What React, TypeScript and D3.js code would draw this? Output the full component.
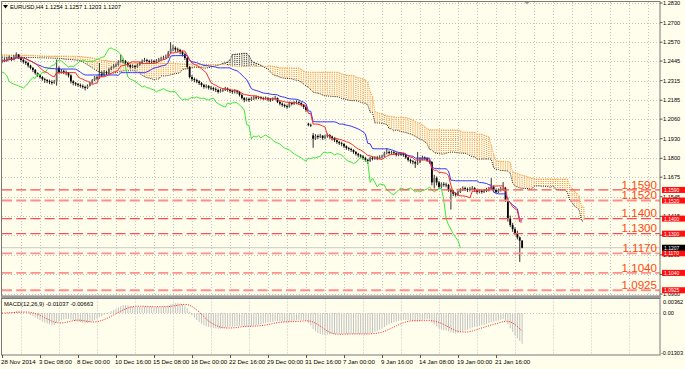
import React, { useEffect, useRef } from 'react';
import * as d3 from 'd3';

const width = 685;
const height = 369;
const BG = '#fffdeb';
const FONT = "'Liberation Sans', Arial, sans-serif";

// EURUSD H4 bars, left to right (open = previous close unless a gap)
const closes = [
  1.2448, 1.2452, 1.2461, 1.2468, 1.2455, 1.2474, 1.2488, 1.2470, 1.2452, 1.2440,
  1.2432, 1.2415, 1.2400, 1.2386, 1.2365, 1.2352, 1.2339, 1.2325, 1.2319, 1.2312,
  1.2306, 1.2300, 1.2308, 1.2400, 1.2372, 1.2378, 1.2372, 1.2365, 1.2350, 1.2310,
  1.2299, 1.2292, 1.2286, 1.2280, 1.2273, 1.2266, 1.2280, 1.2299, 1.2319, 1.2336,
  1.2330, 1.2360, 1.2350, 1.2372, 1.2365, 1.2390, 1.2400, 1.2415, 1.2419, 1.2440,
  1.2452, 1.2445, 1.2432, 1.2418, 1.2406, 1.2412, 1.2406, 1.2420, 1.2432, 1.2445,
  1.2452, 1.2446, 1.2439, 1.2444, 1.2439, 1.2448, 1.2456, 1.2462, 1.2470, 1.2472,
  1.2500, 1.2528, 1.2532, 1.2522, 1.2518, 1.2505, 1.2490, 1.2465, 1.2406, 1.2339,
  1.2325, 1.2319, 1.2310, 1.2299, 1.2286, 1.2273, 1.2280, 1.2268, 1.2266, 1.2258,
  1.2253, 1.2240, 1.2250, 1.2253, 1.2262, 1.2253, 1.2246, 1.2240, 1.2244, 1.2240,
  1.2220, 1.2200, 1.2187, 1.2194, 1.2187, 1.2196, 1.2204, 1.2200, 1.2206, 1.2200,
  1.2196, 1.2200, 1.2190, 1.2187, 1.2194, 1.2200, 1.2174, 1.2162, 1.2154, 1.2146,
  1.2140, 1.2167, 1.2160, 1.2167, 1.2172, 1.2167, 1.2154, 1.2140, 1.2120, 1.2022,
  1.2018, 1.1930, 1.1948, 1.1941, 1.1950, 1.1935, 1.1946, 1.1955, 1.1944, 1.1935,
  1.1920, 1.1908, 1.1900, 1.1895, 1.1880, 1.1868, 1.1862, 1.1855, 1.1842, 1.1830,
  1.1820, 1.1812, 1.1802, 1.1790, 1.1782, 1.1802, 1.1798, 1.1804, 1.1802, 1.1809,
  1.1812, 1.1835, 1.1842, 1.1835, 1.1840, 1.1835, 1.1822, 1.1830, 1.1828, 1.1822,
  1.1806, 1.1789, 1.1780, 1.1775, 1.1765, 1.1772, 1.1790, 1.1805, 1.1800, 1.1785,
  1.1775, 1.1640, 1.1669, 1.1640, 1.1610, 1.1630, 1.1626, 1.1623, 1.1590, 1.1580,
  1.1565, 1.1558, 1.1577, 1.1590, 1.1603, 1.1596, 1.1590, 1.1598, 1.1603, 1.1590,
  1.1577, 1.1584, 1.1577, 1.1586, 1.1590, 1.1596, 1.1610, 1.1590, 1.1577, 1.1590,
  1.1598, 1.1600, 1.1523, 1.1400, 1.1358, 1.1330, 1.1300, 1.1275, 1.1254, 1.1207,
];
const highs = [
  1.2462, 1.2466, 1.2470, 1.2480, 1.2472, 1.2484, 1.2502, 1.2492, 1.2474, 1.2458,
  1.2448, 1.2440, 1.2420, 1.2405, 1.2392, 1.2370, 1.2358, 1.2346, 1.2334, 1.2326,
  1.2322, 1.2318, 1.2320, 1.2455, 1.2410, 1.2392, 1.2388, 1.2382, 1.2372, 1.2356,
  1.2318, 1.2306, 1.2300, 1.2296, 1.2290, 1.2282, 1.2290, 1.2308, 1.2326, 1.2345,
  1.2348, 1.2432, 1.2378, 1.2384, 1.2380, 1.2398, 1.2410, 1.2424, 1.2430, 1.2450,
  1.2486, 1.2462, 1.2452, 1.2440, 1.2424, 1.2422, 1.2420, 1.2428, 1.2440, 1.2456,
  1.2466, 1.2460, 1.2454, 1.2456, 1.2452, 1.2458, 1.2466, 1.2474, 1.2480, 1.2488,
  1.2512, 1.2570, 1.2552, 1.2542, 1.2534, 1.2526, 1.2514, 1.2500, 1.2472, 1.2412,
  1.2352, 1.2336, 1.2328, 1.2318, 1.2306, 1.2294, 1.2290, 1.2286, 1.2280, 1.2274,
  1.2270, 1.2262, 1.2262, 1.2266, 1.2274, 1.2270, 1.2262, 1.2256, 1.2258, 1.2254,
  1.2246, 1.2228, 1.2206, 1.2204, 1.2202, 1.2208, 1.2214, 1.2216, 1.2214, 1.2212,
  1.2208, 1.2210, 1.2206, 1.2200, 1.2204, 1.2214, 1.2204, 1.2180, 1.2170, 1.2162,
  1.2156, 1.2176, 1.2174, 1.2178, 1.2184, 1.2182, 1.2172, 1.2160, 1.2146, 1.2036,
  1.2030, 1.1968, 1.1960, 1.1958, 1.1962, 1.1954, 1.1956, 1.1964, 1.1960, 1.1950,
  1.1940, 1.1926, 1.1916, 1.1910, 1.1900, 1.1886, 1.1876, 1.1870, 1.1860, 1.1848,
  1.1836, 1.1828, 1.1820, 1.1810, 1.1796, 1.1810, 1.1812, 1.1814, 1.1816, 1.1820,
  1.1824, 1.1844, 1.1866, 1.1852, 1.1850, 1.1848, 1.1840, 1.1838, 1.1840, 1.1836,
  1.1828, 1.1810, 1.1796, 1.1790, 1.1782, 1.1842, 1.1806, 1.1818, 1.1812, 1.1806,
  1.1790, 1.1782, 1.1690, 1.1680, 1.1650, 1.1640, 1.1642, 1.1638, 1.1630, 1.1600,
  1.1590, 1.1574, 1.1586, 1.1602, 1.1614, 1.1612, 1.1606, 1.1610, 1.1616, 1.1610,
  1.1596, 1.1594, 1.1592, 1.1596, 1.1604, 1.1610, 1.1668, 1.1620, 1.1598, 1.1600,
  1.1610, 1.1643, 1.1610, 1.1540, 1.1420, 1.1372, 1.1342, 1.1320, 1.1282, 1.1257,
];
const lows = [
  1.2430, 1.2438, 1.2440, 1.2450, 1.2446, 1.2450, 1.2466, 1.2458, 1.2440, 1.2428,
  1.2420, 1.2402, 1.2390, 1.2372, 1.2355, 1.2340, 1.2328, 1.2315, 1.2300, 1.2298,
  1.2292, 1.2288, 1.2294, 1.2282, 1.2360, 1.2362, 1.2358, 1.2350, 1.2336, 1.2296,
  1.2284, 1.2280, 1.2274, 1.2268, 1.2262, 1.2250, 1.2260, 1.2276, 1.2294, 1.2312,
  1.2318, 1.2326, 1.2338, 1.2344, 1.2352, 1.2360, 1.2384, 1.2396, 1.2404, 1.2414,
  1.2436, 1.2430, 1.2420, 1.2406, 1.2394, 1.2398, 1.2392, 1.2400, 1.2414, 1.2426,
  1.2438, 1.2434, 1.2428, 1.2430, 1.2428, 1.2432, 1.2440, 1.2448, 1.2454, 1.2460,
  1.2466, 1.2496, 1.2510, 1.2506, 1.2502, 1.2490, 1.2476, 1.2452, 1.2396, 1.2330,
  1.2312, 1.2304, 1.2298, 1.2286, 1.2274, 1.2262, 1.2264, 1.2256, 1.2252, 1.2246,
  1.2240, 1.2230, 1.2236, 1.2240, 1.2246, 1.2242, 1.2234, 1.2228, 1.2230, 1.2226,
  1.2210, 1.2190, 1.2172, 1.2178, 1.2174, 1.2180, 1.2186, 1.2190, 1.2192, 1.2190,
  1.2186, 1.2188, 1.2178, 1.2174, 1.2180, 1.2188, 1.2166, 1.2150, 1.2142, 1.2136,
  1.2128, 1.2136, 1.2150, 1.2154, 1.2158, 1.2156, 1.2144, 1.2128, 1.2108, 1.2012,
  1.2008, 1.1870, 1.1922, 1.1928, 1.1934, 1.1922, 1.1926, 1.1936, 1.1930, 1.1922,
  1.1908, 1.1896, 1.1888, 1.1880, 1.1868, 1.1856, 1.1850, 1.1842, 1.1830, 1.1818,
  1.1806, 1.1800, 1.1790, 1.1778, 1.1762, 1.1776, 1.1786, 1.1790, 1.1788, 1.1794,
  1.1798, 1.1806, 1.1826, 1.1824, 1.1826, 1.1822, 1.1812, 1.1814, 1.1816, 1.1810,
  1.1796, 1.1778, 1.1766, 1.1760, 1.1736, 1.1756, 1.1768, 1.1786, 1.1788, 1.1776,
  1.1764, 1.1620, 1.1600, 1.1620, 1.1595, 1.1600, 1.1612, 1.1608, 1.1578, 1.1460,
  1.1550, 1.1546, 1.1550, 1.1570, 1.1584, 1.1584, 1.1576, 1.1580, 1.1588, 1.1578,
  1.1564, 1.1568, 1.1566, 1.1570, 1.1576, 1.1580, 1.1590, 1.1576, 1.1566, 1.1570,
  1.1580, 1.1584, 1.1510, 1.1380, 1.1344, 1.1312, 1.1290, 1.1262, 1.1113, 1.1203,
];
const firstOpen = 1.2440;
const gapOpens: { [bar: number]: number } = { 129: 1.2030, 131: 1.1952 };

// cloud spans at the left edge, which depend on bars before the visible window
const kumoEarlyA = [
  1.2471, 1.2471, 1.2470, 1.2470, 1.2470, 1.2470, 1.2470, 1.2470, 1.2469, 1.2469,
  1.2469, 1.2469, 1.2468, 1.2468, 1.2468, 1.2467, 1.2467, 1.2466, 1.2466, 1.2465,
  1.2465, 1.2465, 1.2464, 1.2464, 1.2463, 1.2462, 1.2458, 1.2456, 1.2455, 1.2455,
  1.2454, 1.2452, 1.2450, 1.2446, 1.2440, 1.2430, 1.2420, 1.2410, 1.2400, 1.2390,
  1.2380, 1.2372, 1.2366, 1.2362, 1.2360, 1.2360, 1.2362, 1.2365, 1.2368, 1.2372,
  1.2376,
];
const kumoEarlyB = [
  1.2486, 1.2486, 1.2486, 1.2485, 1.2485, 1.2485, 1.2485, 1.2485, 1.2484, 1.2484,
  1.2484, 1.2484, 1.2483, 1.2483, 1.2482, 1.2482, 1.2480, 1.2479, 1.2479, 1.2478,
  1.2478, 1.2478, 1.2478, 1.2478, 1.2478, 1.2478, 1.2478, 1.2478, 1.2477, 1.2477,
  1.2477, 1.2476, 1.2476, 1.2475, 1.2474, 1.2472, 1.2470, 1.2468, 1.2466, 1.2462,
  1.2458, 1.2455, 1.2452, 1.2450, 1.2448, 1.2446, 1.2444, 1.2442, 1.2440, 1.2438,
  1.2436, 1.2435, 1.2434, 1.2433, 1.2432, 1.2431, 1.2430, 1.2430, 1.2430, 1.2430,
  1.2430, 1.2430, 1.2430, 1.2430, 1.2430, 1.2430, 1.2430, 1.2430, 1.2430, 1.2430,
  1.2430, 1.2430, 1.2430, 1.2429, 1.2428, 1.2427, 1.2426, 1.2425, 1.2425, 1.2424,
  1.2424, 1.2424, 1.2424, 1.2424, 1.2424, 1.2424, 1.2424, 1.2423, 1.2423, 1.2423,
  1.2422, 1.2422, 1.2422, 1.2421, 1.2420, 1.2418, 1.2415,
];

const priceTicks = [1.2830, 1.2700, 1.2570, 1.2445, 1.2315, 1.2185, 1.2060, 1.1930,
  1.1800, 1.1675, 1.1545, 1.1415, 1.1290, 1.1160, 1.1030, 1.0900];
const levels = [1.1590, 1.1520, 1.1400, 1.1300, 1.1170, 1.1040, 1.0925];
const bidPrice = 1.1207;
const timeLabels = ['28 Nov 2014', '3 Dec 08:00', '8 Dec 00:00', '10 Dec 16:00', '15 Dec 08:00',
  '18 Dec 00:00', '22 Dec 16:00', '29 Dec 00:00', '31 Dec 16:00', '7 Jan 00:00', '9 Jan 16:00',
  '14 Jan 08:00', '19 Jan 00:00', '21 Jan 16:00'];
const macdTicks = [0.00362, 0, -0.01303];
const macdTickLabels = ['0.00362', '0.00', '-0.01303'];
const header = 'EURUSD,H4  1.1254 1.1257 1.1203 1.1207';
const macdTitle = 'MACD(12,26,9) -0.01037 -0.00663';

const LEFT = 2;
const RIGHT = 660;
const MAIN_BOTTOM = 296;
const MACD_TOP = 298.5;
const MACD_BOTTOM = 355;
const heavyLevels = [1.1520, 1.1170, 1.1040, 1.0925];

const drawChart = (host: any) => {
  const svg = host.append('svg')
    .attr('width', width).attr('height', height)
    .style('display', 'block').style('background', BG)
    .attr('font-family', FONT);

  const n = closes.length;
  const opens = closes.map((c, i) => gapOpens[i] ?? (i === 0 ? firstOpen : closes[i - 1]));
  const midRange = (i: number, len: number) => {
    const s = Math.max(0, i - len + 1);
    return ((d3.max(highs.slice(s, i + 1)) as number) + (d3.min(lows.slice(s, i + 1)) as number)) / 2;
  };
  const tenkan = closes.map((_, i) => midRange(i, 9));
  const kijun = closes.map((_, i) => midRange(i, 26));
  const spanA = d3.range(n + 26).map(j => j < kumoEarlyA.length ? kumoEarlyA[j] : (tenkan[j - 26] + kijun[j - 26]) / 2);
  const spanB = d3.range(n + 26).map(j => j < kumoEarlyB.length ? kumoEarlyB[j] : midRange(j - 26, 52));
  const chikou = closes.slice(26);

  const ema = (p: number) => {
    const k = 2 / (p + 1);
    let e = closes[0];
    return closes.map(c => (e = e + k * (c - e)));
  };
  const e12 = ema(12), e26 = ema(26);
  const macd = closes.map((_, i) => e12[i] - e26[i]);
  const signal = macd.map((_, i) => d3.mean(macd.slice(Math.max(0, i - 8), i + 1)) as number);

  const x = d3.scaleLinear().domain([0, 8]).range([LEFT, LEFT + 19]);
  const y = d3.scaleLinear().domain([1.0900, 1.2830]).range([294, 3]);
  const ym = d3.scaleLinear().domain([-0.01303, 0.00362]).range([353, 302]).clamp(true);

  const defs = svg.append('defs');
  defs.append('clipPath').attr('id', 'mainClip').append('rect')
    .attr('x', LEFT).attr('y', 2).attr('width', RIGHT - LEFT).attr('height', MAIN_BOTTOM - 2);
  defs.append('clipPath').attr('id', 'macdClip').append('rect')
    .attr('x', LEFT).attr('y', MACD_TOP).attr('width', RIGHT - LEFT).attr('height', MACD_BOTTOM - MACD_TOP);

  // grid
  const grid = svg.append('g').attr('stroke', '#c4c4c4').attr('stroke-width', 1).attr('stroke-dasharray', '1,2');
  d3.range(8, 280, 8).filter(i => x(i) < RIGHT).forEach(i => {
    grid.append('line').attr('x1', Math.round(x(i)) + 0.5).attr('x2', Math.round(x(i)) + 0.5)
      .attr('y1', 2).attr('y2', MAIN_BOTTOM);
  });
  d3.range(8, 280, 16).filter(i => x(i) < RIGHT).forEach(i => {
    grid.append('line').attr('x1', Math.round(x(i)) + 0.5).attr('x2', Math.round(x(i)) + 0.5)
      .attr('y1', MACD_TOP).attr('y2', MACD_BOTTOM);
  });
  priceTicks.forEach(t => {
    grid.append('line').attr('x1', LEFT).attr('x2', RIGHT)
      .attr('y1', Math.round(y(t)) + 0.5).attr('y2', Math.round(y(t)) + 0.5);
  });
  grid.append('line').attr('x1', LEFT).attr('x2', RIGHT)
    .attr('y1', Math.round(ym(0)) + 0.5).attr('y2', Math.round(ym(0)) + 0.5);

  const main = svg.append('g').attr('clip-path', 'url(#mainClip)');

  // bid line
  main.append('line').attr('x1', LEFT).attr('x2', RIGHT)
    .attr('y1', y(bidPrice)).attr('y2', y(bidPrice)).attr('stroke', '#c8c8c8').attr('stroke-width', 1);

  // kumo hatch
  const kumo = main.append('g').attr('stroke-width', 1.15).attr('stroke-dasharray', '1,1');
  spanA.forEach((a, j) => {
    const b = spanB[j];
    kumo.append('line').attr('x1', x(j)).attr('x2', x(j))
      .attr('y1', y(Math.max(a, b))).attr('y2', y(Math.min(a, b)))
      .attr('stroke', b >= a ? '#f39a3c' : '#2a2a2a');
  });
  const idxLine = d3.line<number>().x((_, i) => x(i)).y(d => y(d));
  main.append('path').attr('d', idxLine(spanA)).attr('fill', 'none')
    .attr('stroke', '#222').attr('stroke-width', 1).attr('stroke-dasharray', '1,1.2');
  main.append('path').attr('d', idxLine(spanB)).attr('fill', 'none')
    .attr('stroke', '#f59a3c').attr('stroke-width', 1).attr('stroke-dasharray', '1,1.2');

  // candles
  const candles = main.append('g');
  closes.forEach((c, i) => {
    const o = opens[i];
    const h = Math.max(highs[i], o, c), l = Math.min(lows[i], o, c);
    candles.append('line').attr('x1', x(i)).attr('x2', x(i)).attr('y1', y(h)).attr('y2', y(l))
      .attr('stroke', '#1a1a1a').attr('stroke-width', 0.9);
    const top = y(Math.max(o, c)), bot = y(Math.min(o, c));
    candles.append('rect').attr('x', x(i) - 0.9).attr('width', 1.8)
      .attr('y', top).attr('height', Math.max(0.8, bot - top))
      .attr('fill', c >= o ? '#6a6a6a' : '#000');
  });

  // ichimoku lines
  main.append('path').attr('d', idxLine(chikou)).attr('fill', 'none')
    .attr('stroke', '#3be83b').attr('stroke-width', 1);
  main.append('path').attr('d', idxLine(kijun)).attr('fill', 'none')
    .attr('stroke', '#3333ff').attr('stroke-width', 1);
  main.append('path').attr('d', idxLine(tenkan)).attr('fill', 'none')
    .attr('stroke', '#ff2a2a').attr('stroke-width', 1);

  // horizontal levels
  levels.forEach(lv => {
    const heavy = heavyLevels.includes(lv);
    main.append('line').attr('x1', LEFT).attr('x2', RIGHT).attr('y1', y(lv)).attr('y2', y(lv))
      .attr('stroke', heavy ? '#ff8f8a' : '#ff4d4d').attr('stroke-width', heavy ? 1.8 : 1.2)
      .attr('stroke-dasharray', '10,4.2');
    svg.append('text').attr('x', 657).attr('y', y(lv) - 1.3).attr('text-anchor', 'end')
      .attr('font-size', 11.6).attr('fill', '#ff4a10').text(lv.toFixed(4));
  });

  // header
  svg.append('path').attr('d', 'M3,5 L8,5 L5.5,8.5 Z').attr('fill', '#000');
  svg.append('text').attr('x', 10).attr('y', 8.8).attr('font-size', 5.8).attr('fill', '#000').text(header);
  svg.append('path').attr('d', 'M524,1.5 L530,1.5 L527,4.5 Z').attr('fill', '#a0a0a0');

  // MACD
  const sub = svg.append('g').attr('clip-path', 'url(#macdClip)');
  macd.forEach((v, i) => {
    sub.append('line').attr('x1', x(i)).attr('x2', x(i)).attr('y1', ym(0)).attr('y2', ym(v))
      .attr('stroke', '#c2c2c2').attr('stroke-width', 1);
  });
  sub.append('path').attr('d', d3.line<number>().x((_, i) => x(i)).y(d => ym(d))(signal))
    .attr('fill', 'none').attr('stroke', '#ff2020').attr('stroke-width', 1).attr('stroke-dasharray', '1,1.4');
  svg.append('text').attr('x', 4).attr('y', 305.5).attr('font-size', 5.8).attr('fill', '#000').text(macdTitle);

  // frames
  const frame = svg.append('g').attr('fill', 'none').attr('stroke', '#7a7a7a').attr('stroke-width', 1);
  frame.append('rect').attr('x', 1.5).attr('y', 1.5).attr('width', RIGHT - 1.5).attr('height', MAIN_BOTTOM - 1.5);
  frame.append('rect').attr('x', 1.5).attr('y', MACD_TOP).attr('width', RIGHT - 1.5).attr('height', MACD_BOTTOM - MACD_TOP);
  svg.append('rect').attr('x', 1).attr('y', MAIN_BOTTOM).attr('width', RIGHT).attr('height', 2).attr('fill', '#9a9a9a');

  // price axis
  const axis = svg.append('g').attr('font-size', 5.6).attr('fill', '#000');
  priceTicks.forEach(t => {
    axis.append('line').attr('x1', RIGHT).attr('x2', RIGHT + 2.5).attr('y1', y(t)).attr('y2', y(t))
      .attr('stroke', '#555');
    axis.append('text').attr('x', 663).attr('y', y(t) + 2).text(t.toFixed(4));
  });
  macdTicks.forEach((t, k) => {
    axis.append('text').attr('x', k === 2 ? 661 : 663).attr('y', ym(t) + 2).text(macdTickLabels[k]);
  });
  levels.forEach(lv => {
    axis.append('rect').attr('x', 662).attr('y', y(lv) - 3).attr('width', 23).attr('height', 6).attr('fill', '#ff1010');
    axis.append('text').attr('x', 664).attr('y', y(lv) + 2).attr('fill', '#fff').attr('font-size', 5).text(lv.toFixed(4));
  });
  axis.append('rect').attr('x', 662).attr('y', y(bidPrice) - 3).attr('width', 23).attr('height', 6).attr('fill', '#000');
  axis.append('text').attr('x', 664).attr('y', y(bidPrice) + 2).attr('fill', '#fff').attr('font-size', 5).text(bidPrice.toFixed(4));

  // time axis
  const times = svg.append('g').attr('font-size', 6.1).attr('fill', '#000');
  timeLabels.forEach((lab, k) => {
    const xi = Math.round(x(k * 16));
    times.append('line').attr('x1', xi + 0.5).attr('x2', xi + 0.5).attr('y1', MACD_BOTTOM).attr('y2', MACD_BOTTOM + 3)
      .attr('stroke', '#555');
    times.append('text').attr('x', Math.max(0, xi - 1)).attr('y', 364).text(lab);
  });
};

const App = () => {
  const box = useRef<HTMLDivElement>(null);

  useEffect(() => {
    document.body.style.margin = '0';
    const host = d3.select(box.current);
    host.selectAll('svg').remove();
    drawChart(host);
  }, []);

  return <div ref={box} style={{ width, height }} />;
};

export default App;
